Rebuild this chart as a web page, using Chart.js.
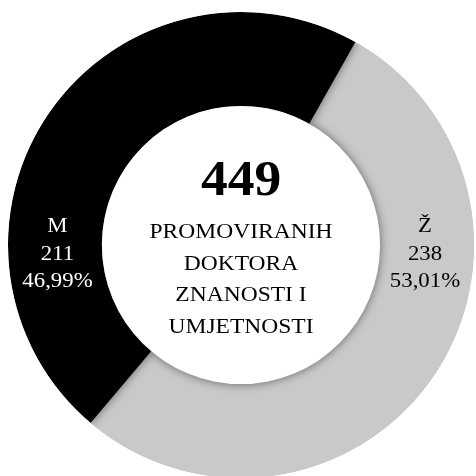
<!DOCTYPE html>
<html>
<head>
<meta charset="utf-8">
<script src="https://cdn.jsdelivr.net/npm/chart.js@4"></script>
<style>
  html, body { margin: 0; padding: 0; background: #fff; overflow: hidden; }
  #wrap { width: 476px; height: 476px; overflow: hidden; }
</style>
</head>
<body>
<div id="wrap"><canvas id="donut" width="476" height="484"></canvas></div>
<script>
const labels = ['Ž', 'M'];
const counts = [238, 211];
const colors = ['#c9c9c9', '#000000'];
const labelColors = ['#000000', '#ffffff'];
const centerLines = ['PROMOVIRANIH', 'DOKTORA', 'ZNANOSTI I', 'UMJETNOSTI'];

const total = counts.reduce((a, b) => a + b, 0);
const serif = "'Liberation Serif', 'Times New Roman', serif";

function drawText(ctx, text, x, y, sx) {
    ctx.save();
    ctx.translate(x, y);
    ctx.scale(sx, 1);
    ctx.fillText(text, 0, 0);
    ctx.restore();
}

const ringPlugin = {
    id: 'ring',
    beforeDatasetsDraw(chart) {
        const arc = chart.getDatasetMeta(0).data[0];
        const ctx = chart.ctx;
        ctx.save();
        ctx.beginPath();
        ctx.arc(arc.x, arc.y, arc.outerRadius, 0, Math.PI * 2);
        ctx.clip();
        ctx.shadowColor = 'rgba(0,0,0,0.5)';
        ctx.shadowBlur = 10;
    },
    afterDatasetsDraw(chart) {
        const arc = chart.getDatasetMeta(0).data[0];
        const ctx = chart.ctx;
        // white centre disc casting a soft shadow onto the ring
        ctx.beginPath();
        ctx.arc(arc.x, arc.y, arc.innerRadius, 0, Math.PI * 2);
        ctx.fillStyle = '#ffffff';
        ctx.fill();
        ctx.restore();

        const cx = arc.x, cy = arc.y;
        ctx.save();
        ctx.textAlign = 'center';
        ctx.textBaseline = 'alphabetic';

        // centre total + caption
        ctx.fillStyle = '#000';
        ctx.font = 'bold 50px ' + serif;
        drawText(ctx, String(total), cx, cy - 50, 1.07);
        ctx.font = '21px ' + serif;
        centerLines.forEach((line, i) => {
            drawText(ctx, line, cx, cy - 7 + i * 31.5, 1.12);
        });

        // segment labels, Ž on the right, M on the left
        ctx.font = '20px ' + serif;
        labels.forEach((lab, i) => {
            const pct = (counts[i] / total * 100).toFixed(2).replace('.', ',') + '%';
            const x = i === 0 ? cx + 184 : cx - 183.5;
            ctx.fillStyle = labelColors[i];
            [lab, String(counts[i]), pct].forEach((t, j) => {
                drawText(ctx, t, x, cy - 13 + j * 27.5, 1.14);
            });
        });
        ctx.restore();
    }
};

new Chart(document.getElementById('donut'), {
    type: 'doughnut',
    data: {
        labels: labels,
        datasets: [{
            data: counts,
            backgroundColor: colors,
            borderWidth: 0
        }]
    },
    options: {
        responsive: false,
        animation: false,
        rotation: 29.4,
        cutout: '59.7%',
        layout: { padding: { left: 8, right: 2, top: 12, bottom: 6 } },
        plugins: {
            legend: { display: false },
            tooltip: { enabled: false }
        }
    },
    plugins: [ringPlugin]
});
</script>
</body>
</html>
